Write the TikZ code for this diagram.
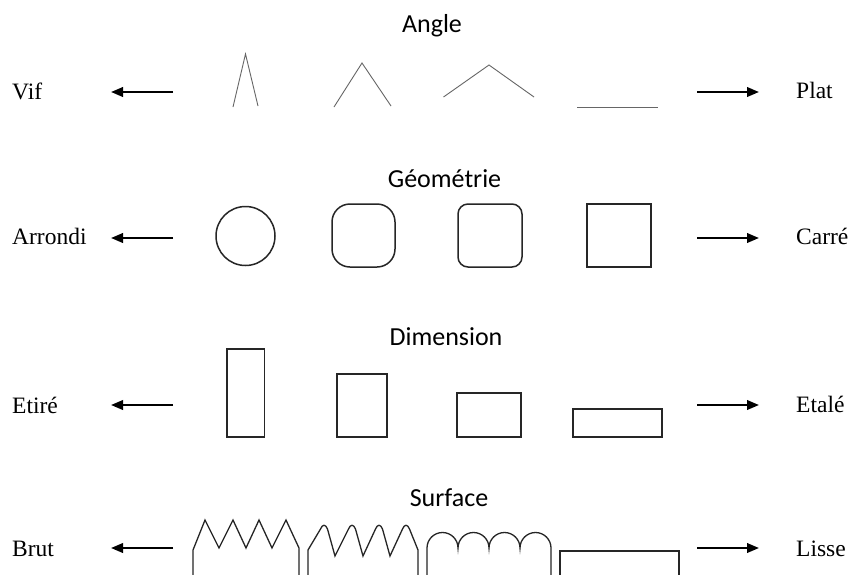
\documentclass[tikz,border=0pt]{standalone}
\usepackage{fontspec}
\setmainfont{Liberation Serif}
\newfontfamily\titlefont{Carlito}
\usetikzlibrary{arrows.meta}
\tikzset{
  ttl/.style={font=\titlefont\fontsize{26}{30}\selectfont, anchor=base, inner sep=0pt},
  lbl/.style={font=\fontsize{23.5}{28}\selectfont, anchor=base west, inner sep=0pt},
  arr/.style={line width=2.2pt, -{Triangle[length=12pt,width=9.5pt]}},
  thin shape/.style={line width=0.9pt, draw=black!60},
  geo/.style={line width=1.5pt, draw=black!85},
  dim/.style={line width=1.3pt, draw=black!85},
  surf/.style={line width=1.3pt, draw=black!85},
}
\begin{document}
\begin{tikzpicture}[x=1pt,y=-1pt]
\useasboundingbox (0,0) rectangle (848,574);
\clip (0,0) rectangle (848,574);
\fill[white] (0,0) rectangle (848,574);

% ---------- Angle ----------
\node[ttl] (tA) at (432,32) {Angle};
\node[lbl] (lA) at (12,99) {Vif};
\node[lbl] (rA) at (796,98) {Plat};
\coordinate (aAl1) at (173,92); \coordinate (aAl2) at (111,92);
\coordinate (aAr1) at (697,92); \coordinate (aAr2) at (759,92);
\draw[arr] (aAl1) -- (aAl2);
\draw[arr] (aAr1) -- (aAr2);
\draw[thin shape] (233,107) -- (245.5,54) -- (258,106);
\draw[thin shape] (334,107) -- (362,63) -- (391,106);
\draw[thin shape] (443.5,97) -- (489,65) -- (534,97);
\draw[thin shape] (577,107) -- (658,107);

% ---------- Geometrie ----------
\node[ttl] (tG) at (444.5,187) {Géométrie};
\node[lbl] (lG) at (12,244) {Arrondi};
\node[lbl] (rG) at (796,244) {Carré};
\coordinate (aGl1) at (173,238); \coordinate (aGl2) at (111,238);
\coordinate (aGr1) at (697,238); \coordinate (aGr2) at (759,238);
\draw[arr] (aGl1) -- (aGl2);
\draw[arr] (aGr1) -- (aGr2);
\draw[geo] (245.5,236) circle[radius=29.5];
\draw[geo, rounded corners=18pt] (332,204) rectangle (395,267);
\draw[geo, rounded corners=10pt] (458,204) rectangle (522,267);
\draw[geo] (587,204) rectangle (651,267);

% ---------- Dimension ----------
\node[ttl] (tD) at (446,345) {Dimension};
\node[lbl] (lD) at (12,413) {Etiré};
\node[lbl] (rD) at (796,412) {Etalé};
\coordinate (aDl1) at (173,405); \coordinate (aDl2) at (111,405);
\coordinate (aDr1) at (697,405); \coordinate (aDr2) at (759,405);
\draw[arr] (aDl1) -- (aDl2);
\draw[arr] (aDr1) -- (aDr2);
\draw[dim] (227,349) rectangle (264.5,437);
\draw[dim] (337,374) rectangle (387,437);
\draw[dim] (457,393) rectangle (521,437);
\draw[dim] (573,409) rectangle (662,437);

% ---------- Surface ----------
\node[ttl] (tS) at (449,506) {Surface};
\node[lbl] (lS) at (12,556) {Brut};
\node[lbl] (rS) at (796,556) {Lisse};
\coordinate (aSl1) at (173,548); \coordinate (aSl2) at (111,548);
\coordinate (aSr1) at (697,548); \coordinate (aSr2) at (759,548);
\draw[arr] (aSl1) -- (aSl2);
\draw[arr] (aSr1) -- (aSr2);
% zigzag
\draw[surf, line join=miter] (193,590) -- (193,550) -- (205,520) -- (219,548) -- (233,520) -- (246,548)
  -- (259,520) -- (272,548) -- (286,520) -- (299,548) -- (299,590);
% rounded peaks
\draw[surf] (308,590) -- (308,550)
  -- (320.5,529) .. controls (322.5,524) and (325.5,524) .. (327.5,529) -- (335,556)
  -- (348.5,529) .. controls (350.5,524) and (353.5,524) .. (355.5,529) -- (363,556)
  -- (375.5,529) .. controls (377.5,524) and (380.5,524) .. (382.5,529) -- (390,556)
  -- (402.5,529) .. controls (404.5,524) and (407.5,524) .. (409.5,529) -- (418,550) -- (418,590);
% scallops
\draw[surf] (427,590) -- (427,548)
  arc[start angle=180, end angle=360, radius=15.5]
  arc[start angle=180, end angle=360, radius=15.5]
  arc[start angle=180, end angle=360, radius=15.5]
  arc[start angle=180, end angle=360, radius=15.5]
  -- (551,590);
% smooth
\draw[surf] (560,590) -- (560,551) -- (679,551) -- (679,590);
\end{tikzpicture}
\end{document}
